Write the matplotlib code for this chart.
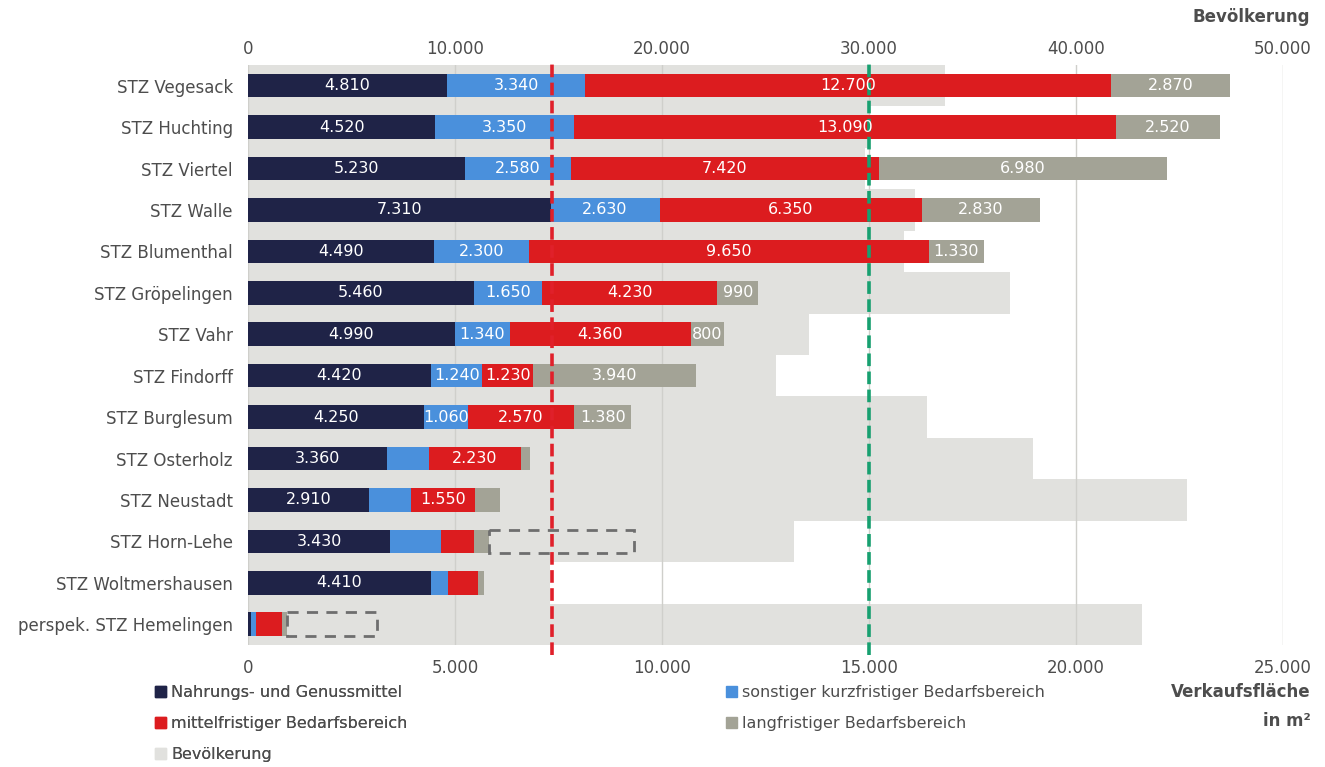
import matplotlib.pyplot as plt
from matplotlib.patches import Patch
from matplotlib.ticker import FuncFormatter

plt.rcParams['font.family'] = ['DejaVu Sans']

# data
zentren = ['STZ Vegesack', 'STZ Huchting', 'STZ Viertel', 'STZ Walle', 'STZ Blumenthal',
           'STZ Gröpelingen', 'STZ Vahr', 'STZ Findorff', 'STZ Burglesum', 'STZ Osterholz',
           'STZ Neustadt', 'STZ Horn-Lehe', 'STZ Woltmershausen', 'perspek. STZ Hemelingen']
nahrung = [4810, 4520, 5230, 7310, 4490, 5460, 4990, 4420, 4250, 3360, 2910, 3430, 4410, 70]
kurz = [3340, 3350, 2580, 2630, 2300, 1650, 1340, 1240, 1060, 1000, 1030, 1230, 420, 120]
mittel = [12700, 13090, 7420, 6350, 9650, 4230, 4360, 1230, 2570, 2230, 1550, 810, 730, 620]
lang = [2870, 2520, 6980, 2830, 1330, 990, 800, 3940, 1380, 230, 590, 340, 140, 120]
geplant = [0, 0, 0, 0, 0, 0, 0, 0, 0, 0, 0, 3520, 0, 2180]
bevoelkerung = [33650, 30000, 29800, 32200, 31700, 36800, 27100, 25500, 32800, 37900,
                45350, 26400, 14600, 43200]
# which values carry a label in the chart
label_nahrung = [1] * 14
label_nahrung[13] = 0
label_kurz = [1, 1, 1, 1, 1, 1, 1, 1, 1, 0, 0, 0, 0, 0]
label_mittel = [1, 1, 1, 1, 1, 1, 1, 1, 1, 1, 1, 0, 0, 0]
label_lang = [1, 1, 1, 1, 1, 1, 1, 1, 1, 0, 0, 0, 0, 0]
grenze_rot = 7350
grenze_gruen = 15000

c_navy = '#1f2347'
c_blue = '#4a90dc'
c_red = '#dc1c1f'
c_gray = '#a3a396'
c_pop = '#e1e1de'
c_text = '#4d4d4d'

fmt = FuncFormatter(lambda v, p: f'{int(v):,}'.replace(',', '.'))

fig = plt.figure(figsize=(13.25, 7.67), dpi=100)
ax = fig.add_axes([0.1872, 0.1591, 0.7811, 0.7562])
ax2 = ax.twiny()
ax2.set_zorder(ax.get_zorder() - 1)
ax.patch.set_visible(False)

y = list(range(len(zentren)))

# population bands on the top axis
ax2.barh(y, bevoelkerung, height=1.0, color=c_pop, linewidth=0)
ax2.set_xlim(0, 50000)

left = [0] * len(zentren)
for vals, col, flags in [(nahrung, c_navy, label_nahrung), (kurz, c_blue, label_kurz),
                         (mittel, c_red, label_mittel), (lang, c_gray, label_lang)]:
    bars = ax.barh(y, vals, left=left, height=0.57, color=col, linewidth=0, zorder=2)
    for b, v, f in zip(bars, vals, flags):
        if f:
            ax.text(b.get_x() + b.get_width() / 2, b.get_y() + b.get_height() / 2,
                    fmt(v), color='white', ha='center', va='center', fontsize=11.5, zorder=4)
    left = [l + v for l, v in zip(left, vals)]

# planned areas as dashed outlines
for yi, l, g in zip(y, left, geplant):
    if g:
        ax.barh(yi, g, left=l, height=0.57, fill=False, edgecolor='#6e6e6e',
                linestyle=(0, (4, 3)), linewidth=2, zorder=2)

ax.axvline(grenze_rot, ymin=-0.018, ymax=1.005, color='#e0202a', linestyle=(0, (3.5, 1.5)),
           linewidth=2.6, zorder=3, clip_on=False)
ax.axvline(grenze_gruen, ymin=-0.018, ymax=1.005, color='#17a070', linestyle=(0, (3.5, 1.5)),
           linewidth=2.6, zorder=3, clip_on=False)

ax.set_xlim(0, 25000)
ax.set_ylim(len(zentren) - 0.5, -0.5)
ax.set_xticks(range(0, 25001, 5000))
ax.xaxis.set_major_formatter(fmt)
ax.set_yticks(y)
ax.set_yticklabels(zentren)
ax.set_axisbelow(True)
ax.grid(axis='x', color='#cfcfcb', linewidth=1)
ax.tick_params(length=0, labelsize=12, labelcolor=c_text, pad=10)
ax.tick_params(axis='y', pad=11)

ax2.set_xticks(range(0, 50001, 10000))
ax2.xaxis.set_major_formatter(fmt)
ax2.tick_params(length=0, labelsize=12, labelcolor=c_text, pad=5)

for a in (ax, ax2):
    for s in a.spines.values():
        s.set_visible(False)

fig.text(0.989, 0.978, 'Bevölkerung', ha='right', va='center', fontsize=12,
         fontweight='bold', color=c_text)
fig.text(0.989, 0.109, 'Verkaufsfläche\nin m²', ha='right', va='top', fontsize=12,
         fontweight='bold', color=c_text, linespacing=1.75)

h1 = [Patch(color=c_navy), Patch(color=c_red), Patch(color=c_pop)]
l1 = ['Nahrungs- und Genussmittel', 'mittelfristiger Bedarfsbereich', 'Bevölkerung']
h2 = [Patch(color=c_blue), Patch(color=c_gray)]
l2 = ['sonstiger kurzfristiger Bedarfsbereich', 'langfristiger Bedarfsbereich']
leg_kw = dict(loc='upper left', frameon=False, handlelength=0.7, handleheight=0.7,
              handletextpad=0.3, labelspacing=1.0, fontsize=11.5, labelcolor=c_text,
              borderaxespad=0, borderpad=0)
leg1 = fig.legend(h1, l1, bbox_to_anchor=(0.117, 0.107), **leg_kw)
fig.add_artist(leg1)
fig.legend(h2, l2, bbox_to_anchor=(0.548, 0.107), **leg_kw)

fig.savefig('out.png', dpi=100)
